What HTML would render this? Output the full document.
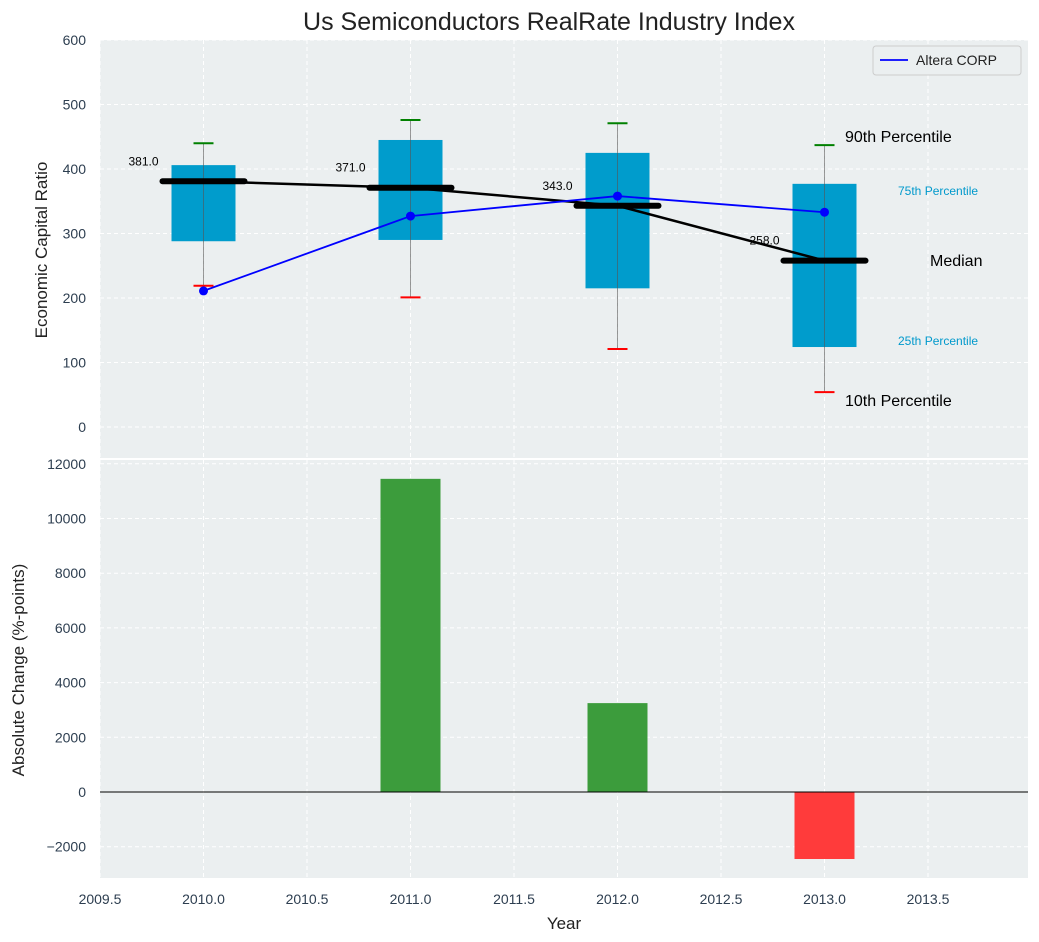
<!DOCTYPE html>
<html><head><meta charset="utf-8"><style>
body{margin:0;background:#fff;font-family:"Liberation Sans","DejaVu Sans",sans-serif;}
svg{display:block}
</style></head><body>
<svg id="c" width="1039" height="942" xmlns="http://www.w3.org/2000/svg"></svg>
<script>
const years=[2010,2011,2012,2013];
const q1=[288,290,215,124];
const q3=[406,445,425,377];
const p10=[219,201,121,54];
const p90=[440,476,471,437];
const medians=[381,371,343,258];
const altera=[211,327,358,333];
const changes=[0,11450,3250,-2450];
const xTicks=[2009.5,2010,2010.5,2011,2011.5,2012,2012.5,2013,2013.5];
const yTopTicks=[0,100,200,300,400,500,600];
const yBotTicks=[-2000,0,2000,4000,6000,8000,10000,12000];

const NS="http://www.w3.org/2000/svg";
const svg=document.getElementById('c');
function el(t,a,txt){const e=document.createElementNS(NS,t);for(const k in a)e.setAttribute(k,a[k]);if(txt!==undefined)e.textContent=txt;svg.appendChild(e);return e;}
const L=100,R=1028;
const X=v=>L+(v-2009.5)*207;
const T0=40,T1=458,B0=460,B1=878;
const YT=v=>427-v*0.645;
const YB=v=>792-v*0.02735;

let e;
e=el('rect',{x:L,y:T0,width:R-L,height:T1-T0,fill:'#ebeff0'});

e=el('rect',{x:L,y:B0,width:R-L,height:B1-B0,fill:'#ebeff0'});

xTicks.forEach(t=>{
 el('line',{x1:X(t),x2:X(t),y1:T0,y2:T1,stroke:'#fff','stroke-dasharray':'4,3'});
 el('line',{x1:X(t),x2:X(t),y1:B0,y2:B1,stroke:'#fff','stroke-dasharray':'4,3'});
 e=el('text',{x:X(t),y:904,'text-anchor':'middle','font-size':14,fill:'#2d3e50'},t.toFixed(1));
 
});
yTopTicks.forEach(t=>{
 el('line',{x1:L,x2:R,y1:YT(t),y2:YT(t),stroke:'#fff','stroke-dasharray':'4,3'});
 e=el('text',{x:86,y:YT(t)+5,'text-anchor':'end','font-size':14,fill:'#2d3e50'},t);
 
});
yBotTicks.forEach(t=>{
 el('line',{x1:L,x2:R,y1:YB(t),y2:YB(t),stroke:'#fff','stroke-dasharray':'4,3'});
 e=el('text',{x:86,y:YB(t)+5,'text-anchor':'end','font-size':14,fill:'#2d3e50'},(t<0?'\u2212'+(-t):t));
 
});
years.forEach((y,i)=>{
 const cx=X(y),w=64;
 e=el('rect',{x:cx-w/2,y:YT(q3[i]),width:w,height:YT(q1[i])-YT(q3[i]),fill:'#009ccc'});
 
 e=el('line',{x1:cx,x2:cx,y1:YT(p90[i]),y2:YT(p10[i]),stroke:'#555','stroke-opacity':0.6,'stroke-width':1});
 
 e=el('line',{x1:cx-10,x2:cx+10,y1:YT(p90[i]),y2:YT(p90[i]),stroke:'green','stroke-width':2});
 
 e=el('line',{x1:cx-10,x2:cx+10,y1:YT(p10[i]),y2:YT(p10[i]),stroke:'red','stroke-width':2});
 
});
e=el('polyline',{points:years.map((y,i)=>X(y)+','+YT(medians[i])).join(' '),fill:'none',stroke:'#000','stroke-width':2.5});

years.forEach((y,i)=>{
 e=el('line',{x1:X(y)-41,x2:X(y)+41,y1:YT(medians[i]),y2:YT(medians[i]),stroke:'#000','stroke-width':6,'stroke-linecap':'round'});
 
 e=el('text',{x:X(y)-60,y:YT(medians[i])-16,'text-anchor':'middle','font-size':12,fill:'#000'},medians[i].toFixed(1));
 
});
e=el('polyline',{points:years.map((y,i)=>X(y)+','+YT(altera[i])).join(' '),fill:'none',stroke:'#0000ff','stroke-width':1.8});

years.forEach((y,i)=>{
 e=el('circle',{cx:X(y),cy:YT(altera[i]),r:4.5,fill:'#0000ff'});
 
});
[['90th Percentile',845,142,16,'#000'],['75th Percentile',898,195,12,'#0099cc'],['Median',930,266,16,'#000'],['25th Percentile',898,345,12,'#0099cc'],['10th Percentile',845,406,16,'#000']].forEach(a=>{
 e=el('text',{x:a[1],y:a[2],'font-size':a[3],fill:a[4]},a[0]);
 
});
e=el('rect',{x:873,y:46,width:148,height:29,fill:'#ebeff0',stroke:'#ccc',rx:3});

el('line',{x1:880,x2:908,y1:60,y2:60,stroke:'#0000ff','stroke-width':1.8});
e=el('text',{x:916,y:65,'font-size':14,fill:'#222'},'Altera CORP');

years.forEach((y,i)=>{
 const v=changes[i];if(v===0)return;
 e=el('rect',{x:X(y)-30,y:Math.min(YB(v),YB(0)),width:60,height:Math.abs(YB(v)-YB(0)),fill:v>0?'#3c9c3c':'#ff3b3b'});
 
});
el('line',{x1:L,x2:R,y1:YB(0),y2:YB(0),stroke:'#000','stroke-width':1});
e=el('text',{x:549,y:30,'text-anchor':'middle','font-size':25,fill:'#222'},'Us Semiconductors RealRate Industry Index');

e=el('text',{x:564,y:929,'text-anchor':'middle','font-size':17,fill:'#222'},'Year');

e=el('text',{x:47,y:250,'text-anchor':'middle','font-size':17,fill:'#222',transform:'rotate(-90 47 250)'},'Economic Capital Ratio');

e=el('text',{x:24,y:670,'text-anchor':'middle','font-size':17,fill:'#222',transform:'rotate(-90 24 670)'},'Absolute Change (%-points)');

</script>
</body></html>
